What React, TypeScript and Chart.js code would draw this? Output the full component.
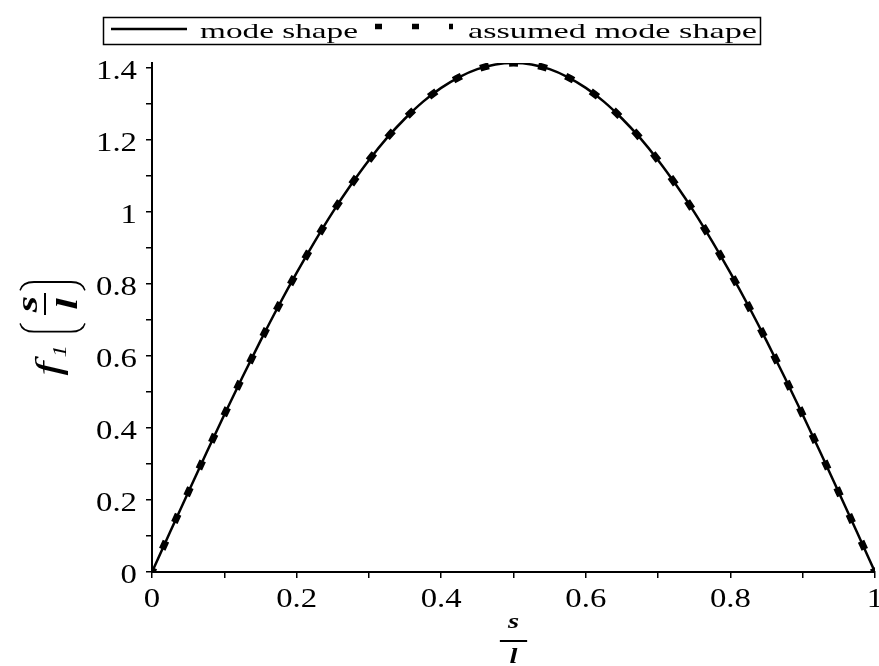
import React, { useEffect, useRef } from 'react';
import { Chart, registerables } from 'chart.js';

Chart.register(...registerables);

// ---- data ----
const sOverL = [
  0, 0.025, 0.05, 0.075, 0.1, 0.125, 0.15, 0.175, 0.2, 0.225, 0.25,
  0.275, 0.3, 0.325, 0.35, 0.375, 0.4, 0.425, 0.45, 0.475, 0.5,
  0.525, 0.55, 0.575, 0.6, 0.625, 0.65, 0.675, 0.7, 0.725, 0.75,
  0.775, 0.8, 0.825, 0.85, 0.875, 0.9, 0.925, 0.95, 0.975, 1,
];
const modeShape = [
  0, 0.111, 0.221, 0.330, 0.437, 0.541, 0.642, 0.739, 0.831, 0.918, 1.0,
  1.075, 1.144, 1.206, 1.260, 1.307, 1.345, 1.375, 1.397, 1.410, 1.414,
  1.410, 1.397, 1.375, 1.345, 1.307, 1.260, 1.206, 1.144, 1.075, 1.0,
  0.918, 0.831, 0.739, 0.642, 0.541, 0.437, 0.330, 0.221, 0.111, 0,
];
const assumedModeShape = [
  0, 0.111, 0.221, 0.330, 0.437, 0.541, 0.642, 0.739, 0.831, 0.918, 1.0,
  1.075, 1.144, 1.206, 1.260, 1.307, 1.345, 1.375, 1.397, 1.410, 1.414,
  1.410, 1.397, 1.375, 1.345, 1.307, 1.260, 1.206, 1.144, 1.075, 1.0,
  0.918, 0.831, 0.739, 0.642, 0.541, 0.437, 0.330, 0.221, 0.111, 0,
];
const seriesLabels = ['mode shape', 'assumed mode shape'];
const xRange = [0, 1];
const yRange = [0, 1.4142];
const tickStep = 0.1;

const FONT = '"Liberation Serif", "Times New Roman", Times, serif';
const DASH = 9;
const DASH_WIDTH = 7;

function fmt(v: number) {
  return String(Math.round(v * 10) / 10);
}
function isMajor(v: number) {
  return Math.round(v * 10) % 2 === 0;
}

function stretchedText(ctx: CanvasRenderingContext2D, text: string, x: number, y: number, sx: number, align: string) {
  const w = ctx.measureText(text).width * sx;
  let x0 = x;
  if (align === 'right') x0 = x - w;
  else if (align === 'center') x0 = x - w / 2;
  ctx.save();
  ctx.translate(x0, y);
  ctx.scale(sx, 1);
  ctx.textAlign = 'left';
  ctx.fillText(text, 0, 0);
  ctx.restore();
}

function fitText(ctx: CanvasRenderingContext2D, text: string, x: number, y: number, width: number) {
  const w = ctx.measureText(text).width;
  ctx.save();
  ctx.translate(x, y);
  ctx.scale(width / w, 1);
  ctx.textAlign = 'left';
  ctx.fillText(text, 0, 0);
  ctx.restore();
}

function paren(ctx: CanvasRenderingContext2D, u0: number, dir: number, vTop: number, vBot: number) {
  // u0: outermost position, dir: +1 ends bend toward +u, -1 toward -u
  ctx.beginPath();
  ctx.moveTo(u0 + dir * 6, vTop);
  ctx.bezierCurveTo(u0 + dir * 1, vTop + 2, u0, vTop + 8, u0, vTop + 14);
  ctx.lineTo(u0, vBot - 14);
  ctx.bezierCurveTo(u0, vBot - 8, u0 + dir * 1, vBot - 2, u0 + dir * 6, vBot);
  ctx.stroke();
}

// spread the square dashes so one sits at each end and at the crest
const dashFit = {
  id: 'dashFit',
  beforeDatasetsDraw(chart: any) {
    const meta = chart.getDatasetMeta(1);
    const pts = meta.data;
    if (!pts || pts.length < 2 || !meta.dataset) return;
    let L = 0;
    for (let i = 0; i < pts.length - 1; i++) {
      const a = pts[i];
      const b = pts[i + 1];
      const x0 = a.x, y0 = a.y, x3 = b.x, y3 = b.y;
      const x1 = a.cp2x ?? x0, y1 = a.cp2y ?? y0, x2 = b.cp1x ?? x3, y2 = b.cp1y ?? y3;
      let px = x0, py = y0;
      for (let k = 1; k <= 24; k++) {
        const t = k / 24, m = 1 - t;
        const x = m * m * m * x0 + 3 * m * m * t * x1 + 3 * m * t * t * x2 + t * t * t * x3;
        const y = m * m * m * y0 + 3 * m * m * t * y1 + 3 * m * t * t * y2 + t * t * t * y3;
        L += Math.hypot(x - px, y - py);
        px = x;
        py = y;
      }
    }
    const half = L / 2;
    const n = Math.max(1, Math.round(half / 30));
    const period = half / n;
    meta.dataset.options = { ...meta.dataset.options, borderDash: [DASH, period - DASH], borderDashOffset: DASH / 2 };
  },
};

const overlay = {
  id: 'overlay',
  afterDraw(chart: any) {
    const ctx: CanvasRenderingContext2D = chart.ctx;
    const xs = chart.scales.x;
    const ys = chart.scales.y;
    ctx.save();
    ctx.fillStyle = '#000';
    ctx.strokeStyle = '#000';
    ctx.textBaseline = 'alphabetic';

    // tick labels
    ctx.font = `28px ${FONT}`;
    const SX = 1.17;
    xs.ticks.forEach((t: any) => {
      if (!isMajor(t.value)) return;
      const px = xs.getPixelForValue(t.value);
      stretchedText(ctx, fmt(t.value), px, chart.chartArea.bottom + 35, SX, 'center');
    });
    ys.ticks.forEach((t: any) => {
      if (!isMajor(t.value)) return;
      const py = ys.getPixelForValue(t.value);
      stretchedText(ctx, fmt(t.value), chart.chartArea.left - 15, py + 11, SX, 'right');
    });

    // x axis title  s / l
    ctx.save();
    ctx.translate((chart.chartArea.left + chart.chartArea.right) / 2, 0);
    ctx.scale(1.3, 1);
    ctx.font = `bold italic 22px ${FONT}`;
    ctx.textAlign = 'center';
    ctx.fillText('s', 0, 628);
    ctx.fillText('l', 0, 663);
    ctx.lineWidth = 2;
    ctx.beginPath();
    ctx.moveTo(-10.5, 641);
    ctx.lineTo(10.5, 641);
    ctx.stroke();
    ctx.restore();

    // y axis title  f_1(s/l)  (text frame: u along text, v across)
    ctx.save();
    ctx.translate(50, 310);
    ctx.rotate(-Math.PI / 2);
    ctx.scale(1.4, 1);
    ctx.textAlign = 'left';
    ctx.font = `italic 36px ${FONT}`;
    ctx.fillText('f', -47, 9.5);
    ctx.font = `italic 18px ${FONT}`;
    ctx.fillText('1', -34, 16);
    ctx.lineWidth = 1.3;
    paren(ctx, -15.5, 1, -30, 35);
    paren(ctx, 20, -1, -30, 35);
    ctx.font = `bold italic 30px ${FONT}`;
    ctx.textAlign = 'center';
    ctx.fillText('s', 4.3, -13);
    ctx.fillText('l', 4.3, 27);
    ctx.lineWidth = 2;
    ctx.beginPath();
    ctx.moveTo(-3.6, -5);
    ctx.lineTo(12.1, -5);
    ctx.stroke();
    ctx.restore();

    // legend
    ctx.lineWidth = 1.5;
    ctx.strokeRect(103.5, 17.5, 657, 27);
    ctx.lineWidth = 2.5;
    ctx.setLineDash([]);
    ctx.beginPath();
    ctx.moveTo(111, 29);
    ctx.lineTo(187, 29);
    ctx.stroke();
    ctx.lineWidth = 5.5;
    ctx.lineCap = 'butt';
    ctx.setLineDash([7, 30]);
    ctx.beginPath();
    ctx.moveTo(375, 26.5);
    ctx.lineTo(453, 26.5);
    ctx.stroke();
    ctx.setLineDash([]);
    ctx.font = `21px ${FONT}`;
    fitText(ctx, seriesLabels[0], 200, 37.5, 158);
    fitText(ctx, seriesLabels[1], 468, 37.5, 289);

    ctx.restore();
  },
};

export default function App() {
  const ref = useRef<HTMLCanvasElement>(null);
  useEffect(() => {
    const gridOpts = {
      drawOnChartArea: false,
      drawTicks: true,
      tickLength: 6,
      color: '#000',
      lineWidth: 1.5,
    };
    const chart = new Chart(ref.current as HTMLCanvasElement, {
      type: 'line',
      data: {
        datasets: [
          {
            label: seriesLabels[0],
            data: sOverL.map((x, i) => ({ x, y: modeShape[i] })),
            borderColor: '#000',
            borderWidth: 2.5,
            pointRadius: 0,
            cubicInterpolationMode: 'monotone',
            fill: false,
          },
          {
            label: seriesLabels[1],
            data: sOverL.map((x, i) => ({ x, y: assumedModeShape[i] })),
            borderColor: '#000',
            borderWidth: DASH_WIDTH,
            borderDash: [DASH, 21],
            borderDashOffset: DASH / 2,
            borderCapStyle: 'butt',
            pointRadius: 0,
            cubicInterpolationMode: 'monotone',
            fill: false,
          },
        ],
      } as any,
      options: {
        responsive: false,
        animation: false,
        events: [],
        layout: { padding: { top: 63, right: 4, bottom: 0, left: 0 } },
        plugins: { legend: { display: false }, tooltip: { enabled: false } },
        scales: {
          x: {
            type: 'linear',
            min: xRange[0],
            max: xRange[1],
            ticks: { stepSize: tickStep, display: false },
            grid: gridOpts,
            border: { display: true, color: '#000', width: 2 },
            afterFit(s: any) {
              s.height = 94;
              s.paddingLeft = 0;
              s.paddingRight = 0;
            },
          },
          y: {
            type: 'linear',
            min: yRange[0],
            max: yRange[1],
            ticks: { stepSize: tickStep, display: false, includeBounds: false },
            grid: gridOpts,
            border: { display: true, color: '#000', width: 2 },
            afterFit(s: any) {
              s.width = 152;
              s.paddingTop = 0;
              s.paddingBottom = 0;
            },
          },
        },
      } as any,
      plugins: [dashFit, overlay],
    });
    return () => chart.destroy();
  }, []);
  return (
    <div style={{ position: 'absolute', left: 0, top: 0, width: 879, height: 666, background: '#fff' }}>
      <canvas ref={ref} width={879} height={666} style={{ display: 'block', width: 879, height: 666 }} />
    </div>
  );
}
